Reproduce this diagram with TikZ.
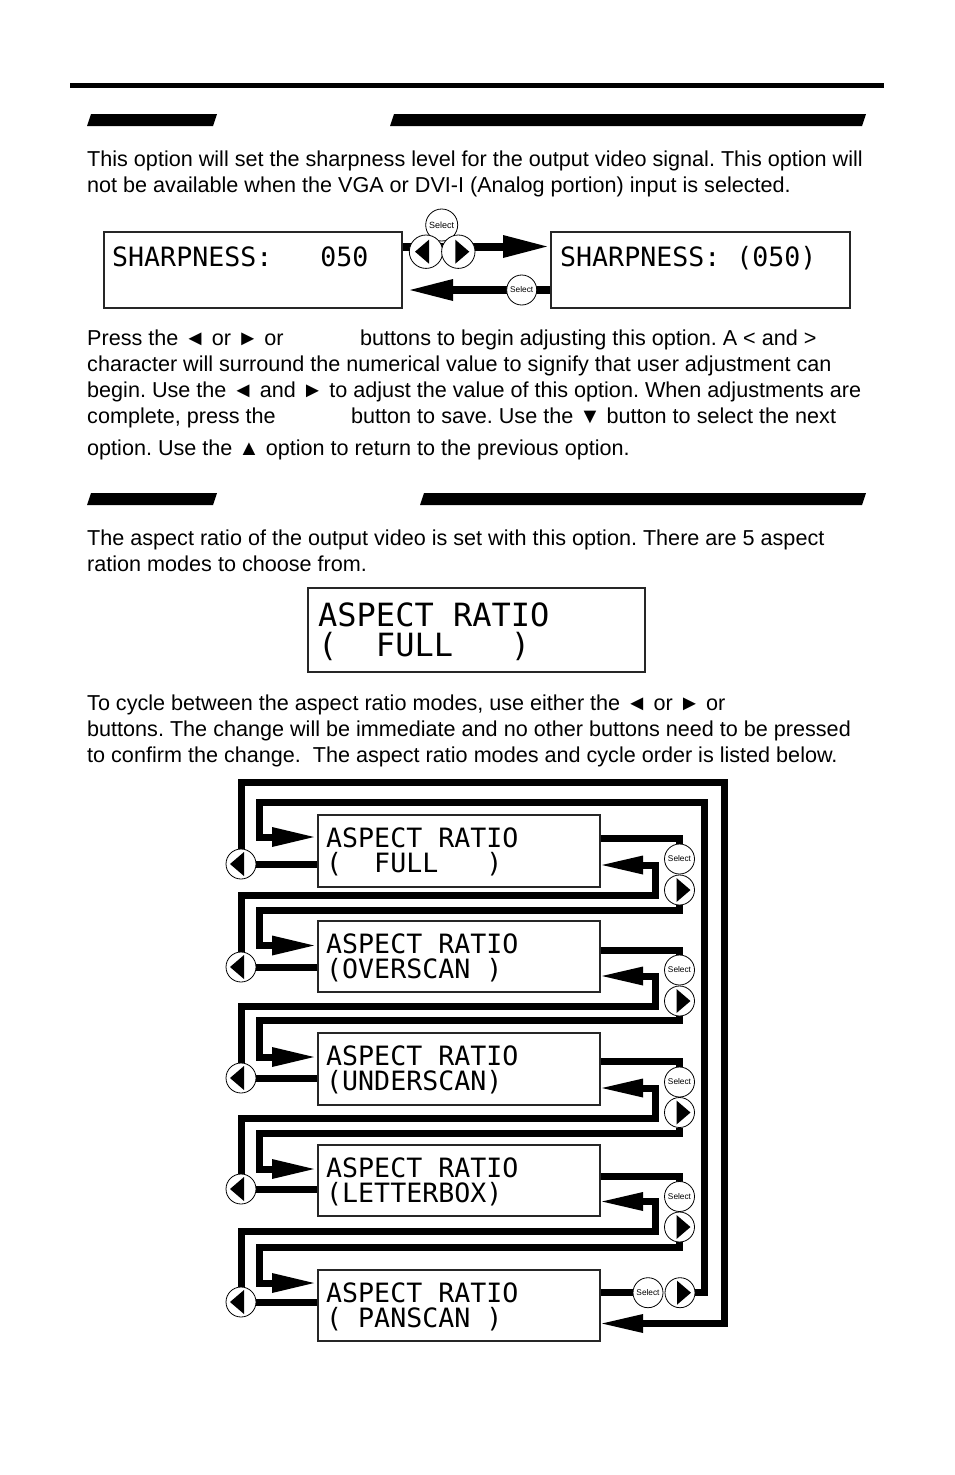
\documentclass[tikz,border=0pt]{standalone}
\usepackage{fontspec}
\setmainfont{Liberation Sans}
\newfontfamily\lcdfont{DejaVu Sans Mono}
\frenchspacing
\tikzset{
  conn/.style={line width=7pt, line join=miter, line cap=butt},
  connw/.style={line width=8pt, line join=miter, line cap=butt},
  btn/.style={circle, draw, line width=0.8pt, fill=white, minimum size=30pt, inner sep=0pt},
  bigbtn/.style={btn, minimum size=33.4pt},
  selbtn/.style={btn, font=\fontsize{8.3}{9}\selectfont},
  lcdbox/.style={draw=black!85, line width=1.2pt, fill=white, inner sep=0pt, minimum width=282pt, minimum height=72pt},
  lcd/.style={font=\lcdfont\fontsize{26.6}{30}\selectfont, anchor=base west, inner sep=0pt},
  lcdbig/.style={font=\lcdfont\fontsize{32}{36}\selectfont, anchor=base west, inner sep=0pt},
  body/.style={font=\fontsize{21.6}{26}\selectfont, anchor=base west, inner sep=0pt},
  bar/.style={fill=black}
}
\newcommand\leftbtn[4][btn]{\node[#1] (#2) at (#3,#4) {};
  \fill (#3-11,#4) -- (#3+3,#4-12) -- (#3+3,#4+12) -- cycle;}
\newcommand\rightbtn[4][btn]{\node[#1] (#2) at (#3,#4) {};
  \fill (#3+11,#4) -- (#3-3,#4-12) -- (#3-3,#4+12) -- cycle;}
\newcommand\headL[1]{\fill ([shift={(0,-10)}]#1) -- ([shift={(42,0)}]#1) -- ([shift={(0,10)}]#1) -- cycle;}
\newcommand\headR[1]{\fill ([shift={(0,-9.5)}]#1) -- ([shift={(-41,0)}]#1) -- ([shift={(0,9.5)}]#1) -- cycle;}
\begin{document}
\begin{tikzpicture}[x=1pt,y=-1pt]
\useasboundingbox (0,0) rectangle (954,1475);
\fill[white] (0,0) rectangle (954,1475);

% ---------- header rules ----------
\draw[line width=5pt] (70,85) -- (884,85);
\fill[bar] (87,126) -- (91,114) -- (217,114) -- (213,126) -- cycle;
\fill[bar] (390,126) -- (394,114) -- (866,114) -- (862,126) -- cycle;
\fill[bar] (87,505) -- (91,493) -- (217,493) -- (213,505) -- cycle;
\fill[bar] (420,505) -- (424,493) -- (866,493) -- (862,505) -- cycle;

% ---------- text ----------
\node[body] (t1) at (87,166.7) {This option will set the sharpness level for the output video signal. This option will};
\node[body] (t2) at (87,192.7) {not be available when the VGA or DVI-I (Analog portion) input is selected.};
\node[body] (t3a) at (87,345.7) {Press the ◄ or ► or};
\node[body] (t3b) at (360,345.7) {buttons to begin adjusting this option. A < and >};
\node[body] (t4) at (87,371.7) {character will surround the numerical value to signify that user adjustment can};
\node[body] (t5) at (87,397.7) {begin. Use the ◄ and ► to adjust the value of this option. When adjustments are};
\node[body] (t6a) at (87,423.7) {complete, press the};
\node[body] (t6b) at (351,423.7) {button to save. Use the ▼ button to select the next};
\node[body] (t7) at (87,455.7) {option. Use the ▲ option to return to the previous option.};
\node[body] (t8) at (87,545.7) {The aspect ratio of the output video is set with this option. There are 5 aspect};
\node[body] (t9) at (87,571.7) {ration modes to choose from.};
\node[body] (t10) at (87,710.7) {To cycle between the aspect ratio modes, use either the ◄ or ► or};
\node[body] (t11) at (87,736.7) {buttons. The change will be immediate and no other buttons need to be pressed};
\node[body] (t12) at (87,762.7) {to confirm the change.\ \ The aspect ratio modes and cycle order is listed below.};

% ---------- sharpness diagram ----------
\node[lcdbox, minimum width=298pt, minimum height=76pt] (sh1) at (253,270) {};
\node[lcdbox, minimum width=299pt, minimum height=76pt] (sh2) at (700.5,270) {};
\node[lcd] (sht1) at (112,266.7) {SHARPNESS:\ \ \ 050};
\node[lcd] (sht2) at (560,266.7) {SHARPNESS:\ (050)};
\coordinate (ah1) at (503,246.5);
\coordinate (ah2) at (453,290);
\draw[connw] (sh1.east |- ah1) -- (ah1);
\fill (503,235) -- (547,246.5) -- (503,258) -- cycle;
\draw[connw] (sh2.west |- ah2) -- (ah2);
\fill (453,279) -- (410,290) -- (453,301) -- cycle;
\node[btn, minimum size=32pt, font=\fontsize{9}{10}\selectfont] (ss0) at (441.7,225) {Select};
\leftbtn[bigbtn]{sl0}{426}{251.7}
\rightbtn[bigbtn]{sr0}{458.3}{251.7}
\node[selbtn] (ss1) at (521.7,290) {Select};

% ---------- aspect ratio box ----------
\node[lcdbox, minimum width=337pt, minimum height=84pt] (ab) at (476.5,630) {};
\node[lcdbig] (abt1) at (318,626.7) {ASPECT\ RATIO};
\node[lcdbig] (abt2) at (318,656.7) {(\ \ FULL\ \ \ )};

% ---------- cycle diagram: coordinates ----------
\coordinate (la1) at (272,837);
\coordinate (la2) at (272,945.5);
\coordinate (la3) at (272,1057);
\coordinate (la4) at (272,1169);
\coordinate (la5) at (272,1283);
\coordinate (ra1) at (643,865);
\coordinate (ra2) at (643,976);
\coordinate (ra3) at (643,1088);
\coordinate (ra4) at (643,1201.5);
\coordinate (ra5) at (643,1323.5);
\coordinate (rt1) at (600,838.5);
\coordinate (rt2) at (600,950);
\coordinate (rt3) at (600,1061);
\coordinate (rt4) at (600,1176);
\coordinate (rt5) at (600,1292.7);

% connectors
\draw[conn] (rt1) -| (679.5,844);
\draw[conn] (rt2) -| (679.5,955);
\draw[conn] (rt3) -| (679.5,1067);
\draw[conn] (rt4) -| (679.5,1181.5);
\draw[conn] (rt5) -- (633,1292.7);

\draw[conn] (241,864) -- (318,864);
\draw[conn] (241,967) -- (318,967);
\draw[conn] (241,1078) -- (318,1078);
\draw[conn] (241,1189) -- (318,1189);
\draw[conn] (241,1302) -- (318,1302);

\draw[conn] (679.5,905) |- (259.5,910) |- (la2);
\draw[conn] (679.5,1016) |- (259.5,1020.5) |- (la3);
\draw[conn] (679.5,1127.5) |- (259.5,1133) |- (la4);
\draw[conn] (679.5,1242) |- (259.5,1247.5) |- (la5);

\draw[conn] (241,952) |- (655,895) |- (ra1);
\draw[conn] (241,1063) |- (655,1006.5) |- (ra2);
\draw[conn] (241,1174) |- (655,1118) |- (ra3);
\draw[conn] (241,1287) |- (655,1231) |- (ra4);

\draw[conn] (241,849) |- (724,782) |- (ra5);
\draw[conn] (695,1292.7) -| (704,802) -| (259.5,837) -- (la1);

\headL{la1}\headL{la2}\headL{la3}\headL{la4}\headL{la5}
\headR{ra1}\headR{ra2}\headR{ra3}\headR{ra4}\headR{ra5}

% buttons
\leftbtn{l1}{241}{864}
\leftbtn{l2}{241}{967}
\leftbtn{l3}{241}{1078}
\leftbtn{l4}{241}{1189}
\leftbtn{l5}{241}{1302}
\node[selbtn] (s1) at (679.5,859) {Select};
\node[selbtn] (s2) at (679.5,970) {Select};
\node[selbtn] (s3) at (679.5,1082) {Select};
\node[selbtn] (s4) at (679.5,1196.5) {Select};
\node[selbtn] (s5) at (648,1292.7) {Select};
\rightbtn{r1}{679.5}{890}
\rightbtn{r2}{679.5}{1001}
\rightbtn{r3}{679.5}{1112.5}
\rightbtn{r4}{679.5}{1227}
\rightbtn{r5}{680}{1292.7}

% boxes
\node[lcdbox] (b1) at (459,851) {};
\node[lcdbox, minimum height=71pt] (b2) at (459,956.5) {};
\node[lcdbox] (b3) at (459,1069) {};
\node[lcdbox, minimum height=71pt] (b4) at (459,1180.5) {};
\node[lcdbox, minimum height=71pt] (b5) at (459,1305.5) {};
\node[lcd] (b1a) at (326,847.7) {ASPECT\ RATIO};
\node[lcd] (b1b) at (326,872.7) {(\ \ FULL\ \ \ )};
\node[lcd] (b2a) at (326,953.7) {ASPECT\ RATIO};
\node[lcd] (b2b) at (326,978.7) {(OVERSCAN\ )};
\node[lcd] (b3a) at (326,1065.7) {ASPECT\ RATIO};
\node[lcd] (b3b) at (326,1090.7) {(UNDERSCAN)};
\node[lcd] (b4a) at (326,1177.7) {ASPECT\ RATIO};
\node[lcd] (b4b) at (326,1202.7) {(LETTERBOX)};
\node[lcd] (b5a) at (326,1302.7) {ASPECT\ RATIO};
\node[lcd] (b5b) at (326,1327.7) {(\ PANSCAN\ )};
\end{tikzpicture}
\end{document}
